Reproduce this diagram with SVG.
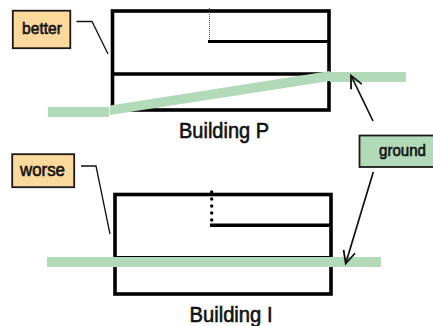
<svg xmlns="http://www.w3.org/2000/svg" width="433" height="326" viewBox="0 0 433 326">
<defs>
<marker id="ah" markerUnits="userSpaceOnUse" markerWidth="18" markerHeight="18" refX="14.500" refY="9" orient="auto"><path d="M2,3 L14.500,9 L2,15" fill="none" stroke="#111" stroke-width="1.8"/></marker>
</defs>
<style>
.wall{fill:none;stroke:#000;stroke-width:3.600}
.ln{fill:none;stroke:#000;stroke-width:3.600}
.gnd{fill:#b2dab8}
.lead{fill:none;stroke:#111;stroke-width:1.3}
.arr{fill:none;stroke:#111;stroke-width:1.7}
.box{stroke:#1a1a1a;stroke-width:1.8}
.t{font-family:"Liberation Sans",Arial,sans-serif;fill:#111;stroke:#111;stroke-width:0.6;text-anchor:middle;font-weight:400}
</style>
<rect width="433" height="326" fill="#fff"/>
<g id="building-p">
<rect class="wall" x="112.500" y="11" width="216.500" height="99"/>
<path class="ln" d="M112.500,74H329"/>
<path class="ln" d="M208,41.500H329" style="stroke-width:3.200"/>
<path d="M209.500,8V40" fill="none" stroke="#333" stroke-width="0.800" stroke-dasharray="1 1"/>
<text class="t" x="224" y="138" font-size="21.500" textLength="90" lengthAdjust="spacingAndGlyphs">Building P</text>
</g>
<g id="building-i">
<rect class="wall" x="115" y="194.500" width="216" height="99.500"/>
<path d="M115,256.500H331" stroke="#000" stroke-width="1.200"/>
<path class="ln" d="M210,225.300H331"/>
<path d="M211.700,192V221" fill="none" stroke="#000" stroke-width="3.400" stroke-linecap="round" stroke-dasharray="0 7"/>
<text class="t" x="231" y="321.500" font-size="21.500" textLength="83" lengthAdjust="spacingAndGlyphs">Building I</text>
</g>
<g id="ground-p">
<rect class="gnd" x="48" y="107" width="61" height="10"/>
<polygon class="gnd" points="110,105.500 330,71 330,81 110,115"/>
<rect class="gnd" x="330" y="72" width="76" height="10"/>
</g>
<g id="ground-i">
<rect class="gnd" x="47" y="257" width="334" height="10"/>
</g>
<g id="better">
<rect class="box" x="12.800" y="10.700" width="57.500" height="37.500" fill="#fbd89b"/>
<text class="t" x="42" y="34" font-size="17" textLength="40" lengthAdjust="spacingAndGlyphs">better</text>
</g>
<g id="worse">
<rect class="box" x="12.200" y="154.200" width="62" height="33" fill="#fbd89b"/>
<text class="t" x="42.500" y="175.500" font-size="18" textLength="45" lengthAdjust="spacingAndGlyphs">worse</text>
</g>
<g id="ground">
<rect class="box" x="359.500" y="135.500" width="76" height="31.500" fill="#b2dab8"/>
<text class="t" x="402.500" y="156" font-size="16.500" textLength="47" lengthAdjust="spacingAndGlyphs">ground</text>
</g>
<g id="connectors">
<path class="lead" d="M76.500,21.500H92L108,54"/>
<path class="lead" d="M81,166H96L110,234"/>
<path class="arr" d="M373,121L351,75.500" marker-end="url(#ah)"/>
<path class="arr" d="M373.300,172L345.700,263.500" marker-end="url(#ah)"/>
</g>
</svg>
